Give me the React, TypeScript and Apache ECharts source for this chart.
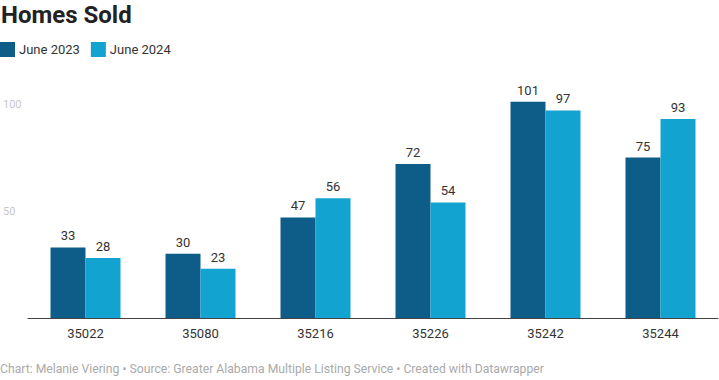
import React, { useEffect, useRef } from "react";
import * as echarts from "echarts";

const categories = ["35022", "35080", "35216", "35226", "35242", "35244"];
const june2023 = [33, 30, 47, 72, 101, 75];
const june2024 = [28, 23, 56, 54, 97, 93];
const yTicks = [50, 100];

const DARK = "#0e5d88";
const LIGHT = "#12a3d0";

export default function App() {
  const ref = useRef<HTMLDivElement>(null);
  useEffect(() => {
    document.body.style.margin = "0";
    const chart = echarts.init(ref.current!, undefined, { renderer: "svg" });
    const font = "Roboto, 'Noto Sans', sans-serif";
    chart.setOption({
      animation: false,
      textStyle: { fontFamily: font },
      title: {
        text: "Homes Sold",
        left: 1,
        top: 2,
        padding: 0,
        textStyle: { fontSize: 24, lineHeight: 26, fontWeight: "bold", color: "#222", fontFamily: font },
      },
      legend: {
        left: 0,
        top: 42,
        padding: 0,
        itemWidth: 15,
        itemHeight: 15,
        itemGap: 11,
        icon: "rect",
        textStyle: { fontSize: 13, color: "#333", padding: [0, 0, 0, -1] },
        data: ["June 2023", "June 2024"],
      },
      graphic: [
        {
          type: "text",
          left: 0,
          top: 363,
          style: {
            text: "Chart: Melanie Viering • Source: Greater Alabama Multiple Listing Service • Created with Datawrapper",
            fontSize: 12.2,
            fill: "#aaa",
            fontFamily: font,
          },
        },
      ],
      grid: { left: 28, right: 1, top: 82.6, bottom: 62, containLabel: false },
      xAxis: {
        type: "category",
        data: categories,
        axisLine: { show: true, lineStyle: { color: "#444", width: 1 } },
        axisTick: { show: false },
        axisLabel: { fontSize: 13, color: "#333", margin: 9 },
      },
      yAxis: {
        type: "value",
        min: 0,
        max: 110,
        interval: 50,
        splitLine: { show: false },
        axisLine: { show: false },
        axisTick: { show: false },
        axisLabel: {
          align: "left",
          margin: 25,
          fontSize: 11,
          color: "#c8c8c8",
          formatter: (v: number) => (yTicks.includes(v) ? String(v) : ""),
        },
      },
      series: [
        {
          name: "June 2023",
          type: "bar",
          data: june2023,
          barWidth: 35,
          barGap: "0%",
          itemStyle: { color: DARK },
          label: { show: true, position: "top", distance: 5, fontSize: 13, color: "#333" },
        },
        {
          name: "June 2024",
          type: "bar",
          data: june2024,
          barWidth: 35,
          barGap: "0%",
          itemStyle: { color: LIGHT },
          label: { show: true, position: "top", distance: 5, fontSize: 13, color: "#333" },
        },
      ],
    });
    return () => chart.dispose();
  }, []);
  return <div ref={ref} style={{ width: 719, height: 380 }} />;
}
